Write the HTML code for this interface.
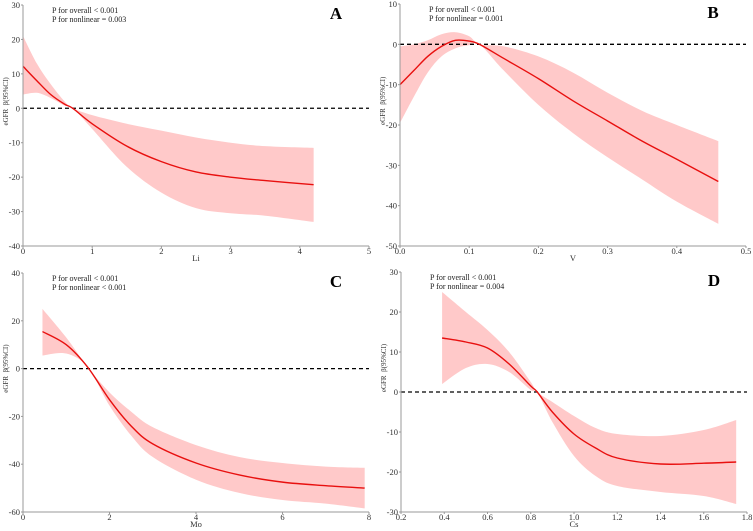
<!DOCTYPE html>
<html><head><meta charset="utf-8">
<style>
html,body{margin:0;padding:0;background:#fff;}
svg{display:block;font-family:"Liberation Serif",serif;}
text{white-space:pre;}
</style></head>
<body>
<svg id="chart" width="753" height="531" viewBox="0 0 753 531"></svg>
<script>
// Panel A (Li)
const aX=[0,0.2,0.4,0.6,0.72,1,1.5,2,2.5,3,3.5,4.2];
const aFit=[12.2,8,4,1.2,0,-4.5,-11,-15.5,-18.5,-20,-21,-22.2];
const aUp=[21,13,7,2,0,-2,-4.5,-6.5,-8.5,-10,-11,-11.5];
const aLo=[4,4.5,3,0.8,0,-6,-17,-24.5,-29,-30.5,-31.2,-33];
const aXTicks=[0,1,2,3,4,5];
const aYTicks=[30,20,10,0,-10,-20,-30,-40];
// Panel B (V)
const bX=[0,0.02,0.04,0.06,0.08,0.1,0.115,0.15,0.2,0.25,0.3,0.35,0.4,0.46];
const bFit=[-10,-6.5,-3,-0.5,1,0.8,0,-3.5,-8.5,-14,-19,-24,-28.5,-34];
const bUp=[-0.5,0,1,2.5,3,2,0,-0.5,-3,-7,-12,-16.5,-20,-24];
const bLo=[-19.5,-13,-7,-3,-1,-0.2,0,-6.5,-15,-22,-28,-33.5,-39,-44.5];
const bXTicks=[0,0.1,0.2,0.3,0.4,0.5];
const bYTicks=[10,0,-10,-20,-30,-40,-50];
// Panel C (Mo)
const cX=[0.45,1,1.5,2,2.5,3,4,5,6,7,7.9];
const cFit=[15.5,10,0.5,-13,-24,-31.5,-39.5,-44.5,-47.5,-49,-50];
const cUp=[25,13,0.5,-10,-18,-24.5,-32,-37,-39.5,-41,-41.5];
const cLo=[5.5,6.3,0.5,-15.5,-28,-37,-46.5,-52,-55,-56.5,-58.5];
const cXTicks=[0,2,4,6,8];
const cYTicks=[40,20,0,-20,-40,-60];
// Panel D (Cs)
const dX=[0.39,0.5,0.6,0.7,0.8,0.83,0.9,1.0,1.1,1.2,1.4,1.6,1.75];
const dFit=[13.5,12.5,11,7,1.5,0,-5,-10.5,-14,-16.5,-18,-17.8,-17.5];
const dUp=[25,20,15.5,10,2.5,0,-2.5,-6,-9,-10.5,-11,-9.5,-7];
const dLo=[2,6,7,5,0.5,0,-7.5,-16,-21,-23.5,-25,-26,-28];
const dXTicks=[0.2,0.4,0.6,0.8,1.0,1.2,1.4,1.6,1.8];
const dYTicks=[30,20,10,0,-10,-20,-30];

const NS="http://www.w3.org/2000/svg";
const svg=document.getElementById('chart');
function mk(tag,attrs,parent){const e=document.createElementNS(NS,tag);for(const k in attrs)e.setAttribute(k,attrs[k]);(parent||svg).appendChild(e);return e;}
function smooth(pts){
  let d="M"+pts[0][0]+","+pts[0][1];
  for(let i=0;i<pts.length-1;i++){
    const p0=pts[Math.max(i-1,0)],p1=pts[i],p2=pts[i+1],p3=pts[Math.min(i+2,pts.length-1)];
    const c1=[p1[0]+(p2[0]-p0[0])/6,p1[1]+(p2[1]-p0[1])/6];
    const c2=[p2[0]-(p3[0]-p1[0])/6,p2[1]-(p3[1]-p1[1])/6];
    d+=" C"+c1[0]+","+c1[1]+" "+c2[0]+","+c2[1]+" "+p2[0]+","+p2[1];
  }
  return d;
}
function panel(o){
  const g=mk('g',{});
  
  
  const sx=v=>o.x0+(v-o.xmin)/(o.xmax-o.xmin)*(o.x1-o.x0);
  const sy=v=>o.y1-(v-o.ymin)/(o.ymax-o.ymin)*(o.y1-o.y0);
  const up=o.xs.map((x,i)=>[sx(x),sy(o.up[i])]);
  const lo=o.xs.map((x,i)=>[sx(x),sy(o.lo[i])]).reverse();
  const bandD=smooth(up)+" L"+lo[0][0]+","+lo[0][1]+smooth(lo).replace(/^M[^C]*/,"")+" Z";
  const band=mk('path',{d:bandD,fill:'#ffc9c9',stroke:'none'},g);
  
  
  const ref=mk('line',{x1:o.x0,x2:o.x1,y1:sy(0),y2:sy(0),stroke:'#000','stroke-width':1.3,'stroke-dasharray':'4,3'},g);
  
  
  const fit=mk('path',{d:smooth(o.xs.map((x,i)=>[sx(x),sy(o.fit[i])])),fill:'none',stroke:'#e8100f','stroke-width':1.4},g);
  
  
  const ax=mk('path',{d:`M${o.x0},${o.y0} L${o.x0},${o.y1} L${o.x1},${o.y1}`,fill:'none',stroke:'#999','stroke-width':1},g);
  
  
  o.xt.forEach(t=>{
    mk('line',{x1:sx(t),x2:sx(t),y1:o.y1,y2:o.y1+2,stroke:'#999'},g);
    const tx=mk('text',{x:sx(t),y:o.y1+8,'font-size':8.5,'text-anchor':'middle',fill:'#333'},g);
    tx.textContent=t.toFixed(o.dec);
    
    
  });
  o.yt.forEach(t=>{
    mk('line',{x1:o.x0-2,x2:o.x0,y1:sy(t),y2:sy(t),stroke:'#999'},g);
    const ty=mk('text',{x:o.x0-3,y:sy(t)+3,'font-size':8.5,'text-anchor':'end',fill:'#333'},g);
    ty.textContent=t;
    
    
  });
  const xl=mk('text',{x:(o.x0+o.x1)/2,y:o.y1+15,'font-size':8.5,'text-anchor':'middle',fill:'#333'},g);
  xl.textContent=o.xlabel;
  
  
  const cy=o.y0+(o.y1-o.y0)*0.4;
  const yl=mk('text',{x:0,y:0,'font-size':7,'text-anchor':'middle',fill:'#333',transform:`translate(${o.x0-15},${cy}) rotate(-90)`},g);
  yl.textContent='eGFR  β(95%CI)';
  
  
  const p1=mk('text',{x:o.x0+29,y:o.y0+8,'font-size':8,fill:'#222'},g);
  p1.textContent=o.p1;
  
  
  const p2=mk('text',{x:o.x0+29,y:o.y0+17,'font-size':8,fill:'#222'},g);
  p2.textContent=o.p2;
  
  
  const L=mk('text',{x:o.x1-33,y:o.y0+14,'font-size':17,'font-weight':'bold','text-anchor':'middle',fill:'#000'},g);
  L.textContent=o.letter;
  
  
}
panel({letter:'A',x0:23,x1:369,y0:5,y1:246,xmin:0,xmax:5,ymin:-40,ymax:30,xs:aX,fit:aFit,up:aUp,lo:aLo,xt:aXTicks,yt:aYTicks,dec:0,xlabel:'Li',p1:'P for overall < 0.001',p2:'P for nonlinear = 0.003'});
panel({letter:'B',x0:400,x1:746,y0:4,y1:246,xmin:0,xmax:0.5,ymin:-50,ymax:10,xs:bX,fit:bFit,up:bUp,lo:bLo,xt:bXTicks,yt:bYTicks,dec:1,xlabel:'V',p1:'P for overall < 0.001',p2:'P for nonlinear = 0.001'});
panel({letter:'C',x0:23,x1:369,y0:273,y1:512,xmin:0,xmax:8,ymin:-60,ymax:40,xs:cX,fit:cFit,up:cUp,lo:cLo,xt:cXTicks,yt:cYTicks,dec:0,xlabel:'Mo',p1:'P for overall < 0.001',p2:'P for nonlinear < 0.001'});
panel({letter:'D',x0:401,x1:747,y0:272,y1:512,xmin:0.2,xmax:1.8,ymin:-30,ymax:30,xs:dX,fit:dFit,up:dUp,lo:dLo,xt:dXTicks,yt:dYTicks,dec:1,xlabel:'Cs',p1:'P for overall < 0.001',p2:'P for nonlinear = 0.004'});
</script>
</body></html>
